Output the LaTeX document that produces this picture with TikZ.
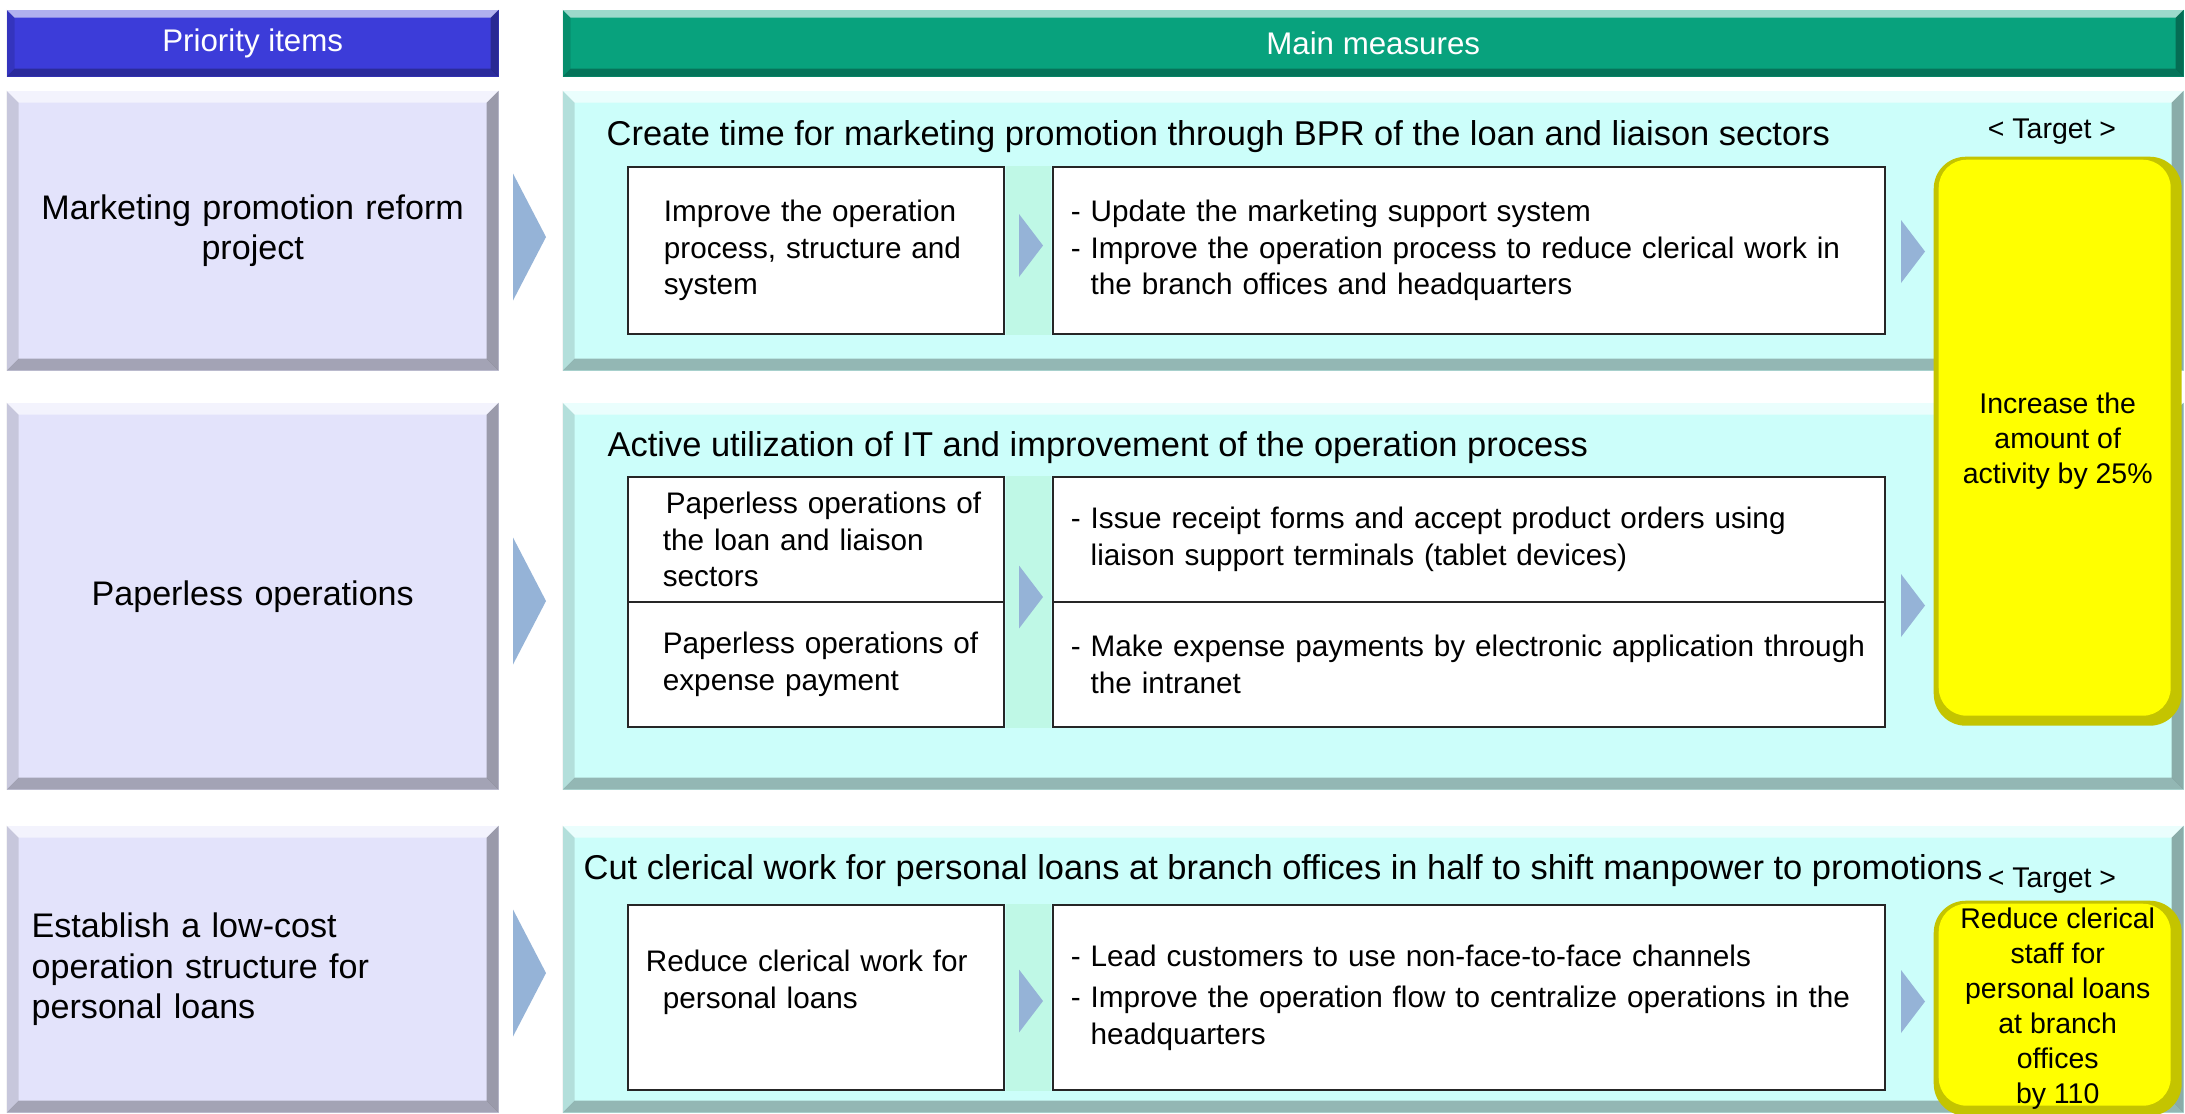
\documentclass[tikz,border=0pt]{standalone}
\usepackage{fontspec}
\setmainfont{Liberation Sans}
\usepackage{tikz}

\definecolor{prihead}{HTML}{3C3CD9}
\definecolor{mainhead}{HTML}{08A27D}
\definecolor{prifill}{HTML}{E3E3FB}
\definecolor{measfill}{HTML}{CCFEFA}
\definecolor{stripfill}{HTML}{BFF8E6}
\definecolor{chevfill}{HTML}{95B3D7}
\definecolor{tgtfill}{HTML}{FFFF00}
\definecolor{tgtedge}{HTML}{C4C400}

\tikzset{
  bevel/.style={path picture={
    \fill[white,opacity=.6](path picture bounding box.north west)--(path picture bounding box.north east)
      --([xshift=-#1,yshift=-#1]path picture bounding box.north east)--([xshift=#1,yshift=-#1]path picture bounding box.north west)--cycle;
    \fill[black,opacity=.12](path picture bounding box.north west)--([xshift=#1,yshift=-#1]path picture bounding box.north west)
      --([xshift=#1,yshift=#1]path picture bounding box.south west)--(path picture bounding box.south west)--cycle;
    \fill[black,opacity=.32](path picture bounding box.north east)--([xshift=-#1,yshift=-#1]path picture bounding box.north east)
      --([xshift=-#1,yshift=#1]path picture bounding box.south east)--(path picture bounding box.south east)--cycle;
    \fill[black,opacity=.28](path picture bounding box.south west)--([xshift=#1,yshift=#1]path picture bounding box.south west)
      --([xshift=-#1,yshift=#1]path picture bounding box.south east)--(path picture bounding box.south east)--cycle;
  }},
  headbox/.style={anchor=north west,inner sep=0pt,text=white,font=\fontsize{8.9}{10.7}\selectfont,bevel=0.08cm},
  pribox/.style={anchor=north west,fill=prifill,bevel=0.12cm,inner sep=0pt,minimum width=4.92cm,
    text width=4.92cm,align=center,font=\fontsize{9.7}{11.6}\selectfont},
  measbox/.style={anchor=north west,fill=measfill,bevel=0.12cm,inner sep=0pt,minimum width=16.21cm},
  rowtitle/.style={anchor=base west,inner sep=0pt,font=\fontsize{9.8}{11.8}\selectfont},
  cellbase/.style={anchor=north west,draw=black!85,line width=0.5pt,fill=white,inner sep=0pt,align=left,
    font=\fontsize{8.45}{10.4}\selectfont,execute at begin node={\leftskip=#1}},
  leftcell/.style={cellbase=#1,text width=3.76cm,minimum width=3.76cm},
  rightcell/.style={cellbase=0.18cm,text width=8.32cm,minimum width=8.32cm},
  strip/.style={fill=stripfill},
  chevron/.style={fill=chevfill},
  tgtbox/.style={anchor=north west,fill=tgtedge,rounded corners=0.32cm,minimum width=2.48cm,inner sep=0pt,
    align=center,font=\fontsize{8.1}{9.96}\selectfont,
    path picture={\fill[tgtfill,rounded corners=0.28cm]([xshift=0.05cm,yshift=-0.03cm]path picture bounding box.north west)
      rectangle([xshift=-0.11cm,yshift=0.1cm]path picture bounding box.south east);}},
  tgtlbl/.style={anchor=base,inner sep=0pt,font=\fontsize{8.1}{9.7}\selectfont}
}
\newcommand\dashind{\leavevmode\hphantom{- }}

\begin{document}
\begin{tikzpicture}
\path[use as bounding box,fill=white](0,0) rectangle (21.85,-11.13);
% column headers
\node[headbox,fill=prihead,minimum width=4.92cm,minimum height=0.67cm](hpri) at (0.06,-0.09){Priority items};
\node[headbox,fill=mainhead,minimum width=16.21cm,minimum height=0.67cm](hmeas) at (5.62,-0.09){Main measures};
% priority items
\node[pribox,minimum height=2.80cm](pri1) at (0.06,-0.90){Marketing promotion reform\\project};
\node[pribox,minimum height=3.87cm](pri2) at (0.06,-4.02){Paperless operations};
\node[pribox,minimum height=2.87cm,align=left,execute at begin node={\leftskip=0.25cm}](pri3) at (0.06,-8.25)
  {Establish a low-cost\\operation structure for\\personal loans};
% measure panels
\node[measbox,minimum height=2.80cm](meas1) at (5.62,-0.90){};
\node[measbox,minimum height=3.87cm](meas2) at (5.62,-4.02){};
\node[measbox,minimum height=2.87cm](meas3) at (5.62,-8.25){};
\node[rowtitle](ttl1) at (6.06,-1.45){Create time for marketing promotion through BPR of the loan and liaison sectors};
\node[rowtitle](ttl2) at (6.07,-4.56){Active utilization of IT and improvement of the operation process};
\node[rowtitle](ttl3) at (5.83,-8.79){Cut clerical work for personal loans at branch offices in half to shift manpower to promotions};
% measures and actions
\node[leftcell=0.36cm,minimum height=1.67cm](c1a) at (6.27,-1.66){Improve the operation\\process, structure and\\system};
\node[rightcell,minimum height=1.67cm](c1b) at (10.52,-1.66)
  {- Update the marketing support system\\- Improve the operation process to reduce clerical work in\\\dashind the branch offices and headquarters};
\node[leftcell=0.35cm,minimum height=1.25cm](c2a) at (6.27,-4.76){\hspace*{0.03cm}Paperless operations of\\the loan and liaison\\sectors};
\node[leftcell=0.35cm,minimum height=1.25cm](c2b) at (6.27,-6.01){Paperless operations of\\expense payment};
\node[rightcell,minimum height=1.25cm](c2c) at (10.52,-4.76)
  {- Issue receipt forms and accept product orders using\\\dashind liaison support terminals (tablet devices)};
\node[rightcell,minimum height=1.25cm](c2d) at (10.52,-6.01)
  {- Make expense payments by electronic application through\\\dashind the intranet};
\node[leftcell=0.18cm,minimum height=1.85cm](c3a) at (6.27,-9.04){Reduce clerical work for\\\hspace*{0.17cm}personal loans\\\mbox{}};
\node[rightcell,minimum height=1.85cm](c3b) at (10.52,-9.04)
  {- Lead customers to use non-face-to-face channels\\[0.05cm]- Improve the operation flow to centralize operations in the\\\dashind headquarters};
\fill[strip]([xshift=0.25pt]c1a.north east) rectangle ([xshift=-0.25pt]c1b.south west);
\fill[strip]([xshift=0.25pt]c2a.north east) rectangle ([xshift=-0.25pt]c2d.south west);
\fill[strip]([xshift=0.25pt]c3a.north east) rectangle ([xshift=-0.25pt]c3b.south west);
% chevrons
\foreach \y in {2.37,6.01,9.73}
  \fill[chevron](5.13,{-\y+0.635})--(5.46,-\y)--(5.13,{-\y-0.635})--cycle;
\foreach \y in {2.455,5.97,10.01}
  \fill[chevron](10.19,{-\y+0.315})--(10.43,-\y)--(10.19,{-\y-0.315})--cycle;
\foreach \y in {2.515,6.055,10.015}
  \fill[chevron](19.01,{-\y+0.315})--(19.25,-\y)--(19.01,{-\y-0.315})--cycle;
% targets
\node[tgtbox,minimum height=5.69cm](tgt1) at (19.33,-1.56){Increase the\\amount of\\activity by 25\%};
\node[tgtbox,minimum height=2.15cm](tgt3) at (19.33,-9.00){Reduce clerical\\staff for\\personal loans\\at branch\\offices\\by 110};
\node[tgtlbl](lbl1) at (20.52,-1.38){< Target >};
\node[tgtlbl](lbl3) at (20.52,-8.87){< Target >};
\end{tikzpicture}
\end{document}
